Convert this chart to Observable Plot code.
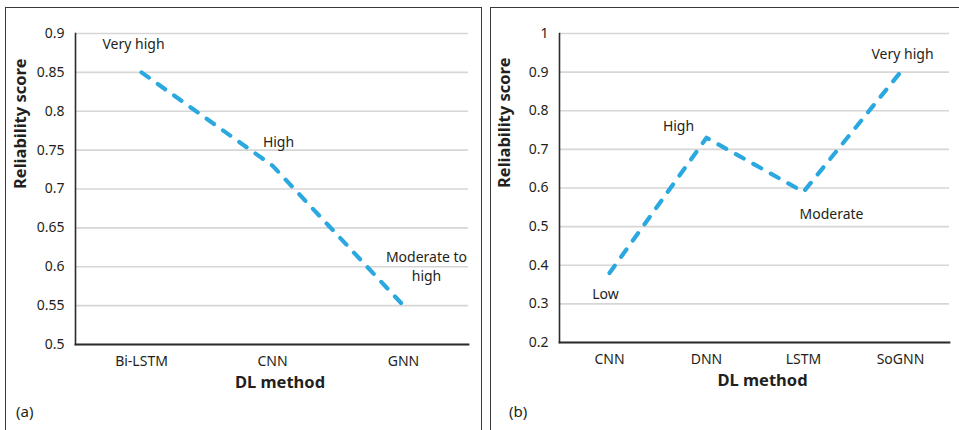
<!DOCTYPE html>
<html>
<head>
<meta charset="utf-8">
<script src="https://cdn.jsdelivr.net/npm/d3@7"></script>
<script src="https://cdn.jsdelivr.net/npm/@observablehq/plot@0.6"></script>
<style>
  html, body { margin: 0; padding: 0; background: #fff; }
  body { width: 959px; height: 430px; position: relative; overflow: hidden; font-family: "Noto Sans", sans-serif; }
  .box { position: absolute; border: 1.6px solid #3a3a3a; box-sizing: border-box; }
  .chart { position: absolute; top: 0; }
  .tag { position: absolute; font-size: 15px; color: #231f20; line-height: 1; }
</style>
</head>
<body>
<div class="box" style="left:5px; top:7px; width:477px; height:440px;"></div>
<div class="box" style="left:490px; top:7px; width:500px; height:440px;"></div>
<div id="a" class="chart" style="left:0px;"></div>
<div id="b" class="chart" style="left:484px;"></div>
<div class="tag" style="left:16px; top:404px;">(a)</div>
<div class="tag" style="left:509px; top:404px;">(b)</div>
<script>
// ---- Panel (a) data ----
const methodsA = ["Bi-LSTM", "CNN", "GNN"];
const scoresA = [0.85, 0.73, 0.55];
const labelsA = ["Very high", "High", "Moderate to\nhigh"];
const ticksA = [0.5, 0.55, 0.6, 0.65, 0.7, 0.75, 0.8, 0.85, 0.9];

// ---- Panel (b) data ----
const methodsB = ["CNN", "DNN", "LSTM", "SoGNN"];
const scoresB = [0.38, 0.73, 0.59, 0.9];
const labelsB = ["Low", "High", "Moderate", "Very high"];
const ticksB = [0.2, 0.3, 0.4, 0.5, 0.6, 0.7, 0.8, 0.9, 1];

const lineColor = "#2aa8df";
const textColor = "#231f20";
const fmt = d3.format("~g");

function panel({methods, scores, labels, ticks, width, marginLeft, marginRight, marginBottom, offsets, xTitleDy}) {
  const rows = methods.map((m, i) => ({method: m, score: scores[i], label: labels[i], i}));
  return Plot.plot({
    width, height: 430,
    marginLeft, marginRight, marginTop: 33, marginBottom,
    style: {fontFamily: "'Noto Sans', sans-serif", fontSize: "14px", color: textColor, background: "transparent"},
    x: {type: "point", domain: methods, padding: 0.5, label: null},
    y: {domain: [ticks[0], ticks[ticks.length - 1]], label: null},
    marks: [
      Plot.gridY(ticks, {stroke: "#d6d6d6", strokeOpacity: 1, strokeWidth: 1.6}),
      Plot.axisY(ticks, {tickSize: 0, tickPadding: 11, tickFormat: fmt, label: null, fontSize: 14}),
      Plot.axisX({tickSize: 0, tickPadding: 12, label: null, fontSize: 14}),
      Plot.frame({anchor: "left", stroke: "#2b2b2b", strokeWidth: 1.6}),
      Plot.frame({anchor: "bottom", stroke: "#2b2b2b", strokeWidth: 1.8}),
      Plot.line(rows, {x: "method", y: "score", stroke: lineColor, strokeWidth: 4.2,
        strokeDasharray: "9,11", strokeLinecap: "round", strokeLinejoin: "round"}),
      ...rows.map((r, i) => Plot.text([r], {x: "method", y: "score", text: "label",
        dx: offsets[i][0], dy: offsets[i][1], fontSize: 14, fill: textColor, lineHeight: 1.35})),
      Plot.text(["Reliability score"], {frameAnchor: "left", rotate: -90, dx: -55, fontWeight: "bold", fontSize: 16.5, fill: textColor}),
      Plot.text(["DL method"], {frameAnchor: "bottom", dx: 8, dy: xTitleDy, fontWeight: "bold", fontSize: 16.5, fill: textColor})
    ]
  });
}

document.getElementById("a").append(panel({
  methods: methodsA, scores: scoresA, labels: labelsA, ticks: ticksA,
  width: 484, marginLeft: 75, marginRight: 16, marginBottom: 86,
  offsets: [[-8, -29], [6, -25], [23, -40]], xTitleDy: 43
}));

document.getElementById("b").append(panel({
  methods: methodsB, scores: scoresB, labels: labelsB, ticks: ticksB,
  width: 475, marginLeft: 75, marginRight: 10, marginBottom: 88,
  offsets: [[-4, 20], [-28, -13], [28, 21], [2, -19]], xTitleDy: 43
}));
</script>
</body>
</html>
